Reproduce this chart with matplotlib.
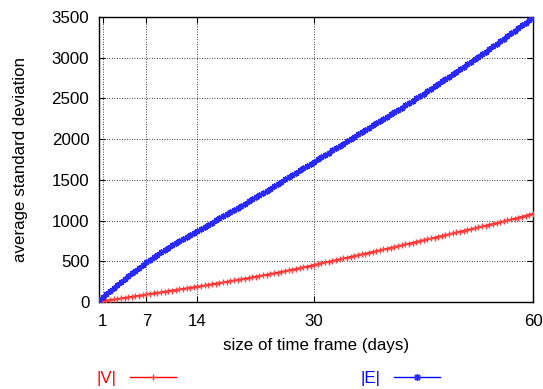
import matplotlib
matplotlib.use("Agg")
import matplotlib.pyplot as plt

plt.rcParams['font.family'] = ['Liberation Sans', 'DejaVu Sans']
FS = 12.2
plt.rcParams['font.size'] = FS

# time frame sizes in days (half-day steps)
days = [0.5 * k for k in range(1, 121)]

# average standard deviation of |V| per time frame size
v_std = [
    5, 12, 18, 25, 31, 38, 45, 52, 58, 65, 72, 79, 86, 93, 100, 107,
    113, 120, 127, 134, 141, 148, 155, 162, 169, 176, 183, 190, 197, 204,
    211, 219, 226, 234, 241, 249, 257, 264, 272, 280, 288, 296, 304, 312,
    320, 328, 336, 345, 353, 362, 371, 380, 389, 398, 407, 416, 426, 435,
    446, 458, 467, 477, 486, 496, 506, 516, 525, 535, 545, 555, 565, 575,
    585, 595, 605, 615, 625, 635, 645, 656, 666, 676, 686, 697, 707, 718,
    728, 739, 749, 760, 770, 781, 791, 802, 812, 823, 833, 844, 854, 865,
    875, 886, 896, 907, 917, 928, 938, 949, 959, 971, 981, 993, 1003, 1015,
    1025, 1037, 1048, 1060, 1072, 1085,
]

# average standard deviation of |E| per time frame size
e_std = [
    25, 62, 100, 138, 175, 212, 248, 283, 318, 352, 386, 420, 454, 488,
    520, 551, 581, 610, 639, 667, 694, 721, 748, 774, 800, 825, 849, 873,
    899, 925, 950, 975, 1001, 1028, 1054, 1080, 1105, 1130, 1157, 1183,
    1209, 1235, 1262, 1288, 1314, 1340, 1366, 1393, 1421, 1450, 1477, 1505,
    1532, 1560, 1588, 1615, 1641, 1668, 1695, 1722, 1750, 1778, 1806, 1835,
    1862, 1890, 1917, 1945, 1974, 2002, 2030, 2058, 2085, 2112, 2140, 2168,
    2195, 2222, 2250, 2277, 2305, 2333, 2360, 2388, 2415, 2443, 2471, 2500,
    2529, 2558, 2588, 2618, 2648, 2678, 2708, 2738, 2768, 2798, 2829, 2860,
    2891, 2922, 2952, 2983, 3014, 3045, 3076, 3108, 3140, 3172, 3203, 3235,
    3267, 3300, 3332, 3365, 3397, 3430, 3462, 3495,
]

x_ticks = [1, 7, 14, 30, 60]
y_ticks = list(range(0, 3501, 500))

fig = plt.figure(figsize=(5.43, 3.89), dpi=100)
ax = fig.add_axes([0.1823, 0.2237, 0.7993, 0.7326])

line_v, = ax.plot(days, v_std, color='#ff0000', lw=1.1, marker='+', ms=4.5,
                  mew=1.0, mec='#ff4040', zorder=3)
line_e, = ax.plot(days, e_std, color='#0000ff', lw=1.1, marker=(8, 2, 0), ms=4.5,
                  mew=1.0, mec='#2a2aff', zorder=4)

ax.set_xlim(0.5, 60)
ax.set_ylim(0, 3500)
ax.set_xticks(x_ticks)
ax.set_yticks(y_ticks)
ax.tick_params(axis='both', direction='in', length=4, width=0.8, top=True,
               right=True, labelsize=FS, colors='black')
ax.tick_params(axis='y', pad=7)
ax.tick_params(axis='x', pad=9)
ax.grid(True, color='black', lw=0.6, linestyle=(0, (1, 2)))
for s in ax.spines.values():
    s.set_linewidth(1.0)

ax.set_xlabel('size of time frame (days)', fontsize=FS, labelpad=6)
ax.set_ylabel('average standard deviation', fontsize=FS, labelpad=17)

leg = fig.legend([line_v, line_e], ['|V|', '|E|'], loc='center',
                 bbox_to_anchor=(0.4945, 0.028), ncol=2, frameon=False,
                 markerfirst=False, handlelength=2.7, handletextpad=0.8,
                 columnspacing=10.9, fontsize=FS, borderpad=0)
for txt, c in zip(leg.get_texts(), ['#ff0000', '#0000ff']):
    txt.set_color(c)
for h in leg.legend_handles:
    h.set_linewidth(1.0)
    h.set_markersize(5)

fig.savefig('out.png', dpi=100)
